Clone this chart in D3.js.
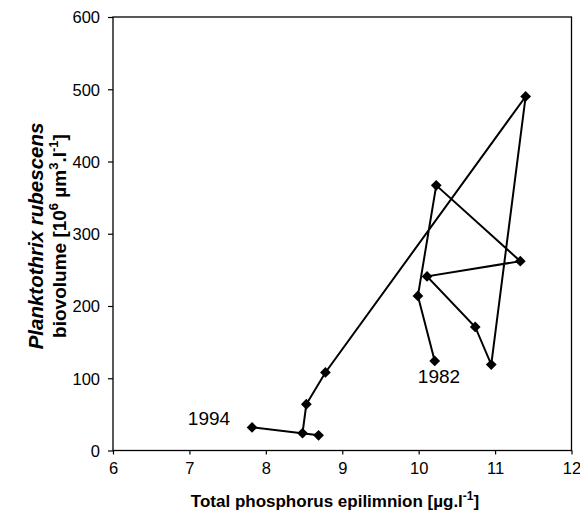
<!DOCTYPE html>
<html><head><meta charset="utf-8">
<script src="https://cdn.jsdelivr.net/npm/d3@7"></script>
<style>body{margin:0;background:#fff}svg text{font-family:Arial,"Liberation Sans",sans-serif;fill:#000}</style>
</head><body><svg id="c" width="580" height="519"></svg>
<script>
const years = [1982,1983,1984,1985,1986,1987,1988,1989,1990,1991,1992,1993,1994];
const phosphorus = [10.21,9.99,10.23,11.33,10.11,10.74,10.95,11.40,8.78,8.53,8.48,8.69,7.82];
const biovolume = [124,214,367,262,241,171,119,490,108,64,24,21,32];
const xTicks = [6,7,8,9,10,11,12];
const yTicks = [0,100,200,300,400,500,600];

const svg = d3.select("#c");
const x = d3.scaleLinear().domain([6,12]).range([113,571.5]);
const y = d3.scaleLinear().domain([0,600]).range([450.5,17]);

svg.append("rect").attr("x",113).attr("y",17).attr("width",458.5).attr("height",433.5)
  .attr("fill","none").attr("stroke","#000").attr("stroke-width",1.3);

const xa = svg.append("g").attr("transform","translate(0,450.5)")
  .call(d3.axisBottom(x).tickValues(xTicks).tickSize(4).tickPadding(8).tickFormat(d3.format("d")));
const ya = svg.append("g").attr("transform","translate(113,0)")
  .call(d3.axisLeft(y).tickValues(yTicks).tickSize(5).tickPadding(8).tickFormat(d3.format("d")));
[xa,ya].forEach(a=>{a.select(".domain").remove();
  a.selectAll("line").attr("stroke","#000").attr("stroke-width",1.2);
  a.selectAll("text").attr("font-size",16.5).attr("font-family","Arial,'Liberation Sans',sans-serif");});
ya.selectAll("text").attr("dy","0.35em");

const pts = years.map((yr,i)=>({yr, px:phosphorus[i], bv:biovolume[i]}));
svg.append("path").datum(pts)
  .attr("d", d3.line().x(d=>x(d.px)).y(d=>y(d.bv)))
  .attr("fill","none").attr("stroke","#000").attr("stroke-width",2);
svg.selectAll(".m").data(pts).enter().append("path")
  .attr("d", d3.symbol(d3.symbolSquare, 58)())
  .attr("transform", d=>`translate(${x(d.px)},${y(d.bv)}) rotate(45)`)
  .attr("fill","#000");

svg.append("text").attr("x",439).attr("y",383).attr("text-anchor","middle").attr("font-size",19).text("1982");
svg.append("text").attr("x",209).attr("y",425).attr("text-anchor","middle").attr("font-size",19).text("1994");

const xt = svg.append("text").attr("x",335).attr("y",507).attr("text-anchor","middle")
  .attr("font-size",17).attr("font-weight","bold");
xt.append("tspan").text("Total phosphorus epilimnion [µg.l");
xt.append("tspan").attr("font-size",12).attr("dy",-7).text("-1");
xt.append("tspan").attr("dy",7).text("]");

const yt = svg.append("g").attr("transform","translate(0,236) rotate(-90)");
yt.append("text").attr("x",0).attr("y",43).attr("text-anchor","middle")
  .attr("font-size",20.5).attr("font-weight","bold").attr("font-style","italic").text("Planktothrix rubescens");
const t2 = yt.append("text").attr("x",0).attr("y",66).attr("text-anchor","middle")
  .attr("font-size",19).attr("font-weight","bold");
t2.append("tspan").text("biovolume [10");
t2.append("tspan").attr("font-size",13).attr("dy",-8).text("6");
t2.append("tspan").attr("dy",8).text(" µm");
t2.append("tspan").attr("font-size",13).attr("dy",-8).text("3");
t2.append("tspan").attr("dy",8).text(".l");
t2.append("tspan").attr("font-size",13).attr("dy",-8).text("-1");
t2.append("tspan").attr("dy",8).text("]");
</script></body></html>
